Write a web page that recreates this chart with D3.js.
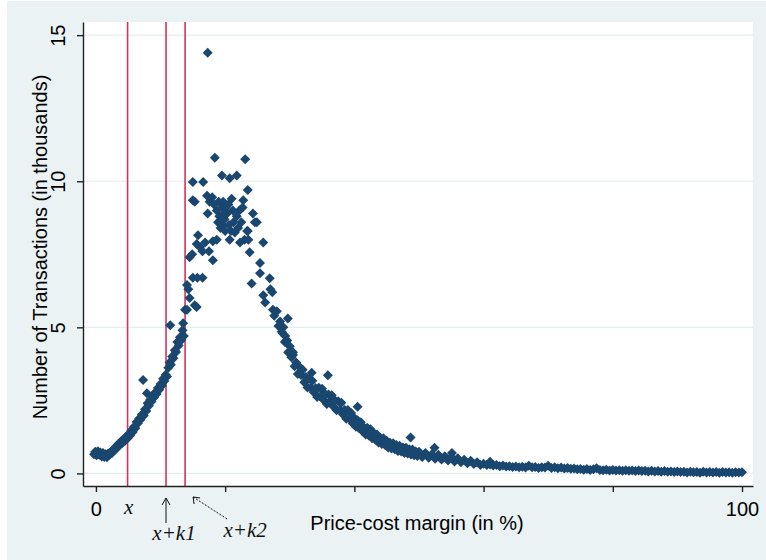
<!DOCTYPE html>
<html>
<head>
<meta charset="utf-8">
<script src="https://cdn.jsdelivr.net/npm/d3@7.9.0/dist/d3.min.js"></script>
<style>
  body { margin: 0; background: #fff; }
  svg { display: block; font-family: "Liberation Sans", Arial, sans-serif; }
</style>
</head>
<body>
<svg width="766" height="560"></svg>
<script>
// [margin %, transactions in thousands]
const risePoints = [
  [-0.3,0.66],[-0.1,0.74],[0.1,0.62],[0.3,0.76],[0.5,0.64],[0.7,0.72],[0.9,0.58],[1.1,0.7],[1.3,0.56],[1.5,0.66],
  [1.7,0.55],[1.9,0.68],[2.1,0.64],[2.3,0.74],[2.5,0.7],[2.7,0.82],[2.9,0.8],[3.1,0.92],[3.3,0.88],[3.5,1.02],
  [3.7,0.98],[3.9,1.1],[4.1,1.04],[4.3,1.18],[4.5,1.12],[4.7,1.26],[4.9,1.2],[5.1,1.36],[5.3,1.3],[5.5,1.48],
  [5.7,1.42],[5.9,1.6],[6.1,1.55],[6.3,1.76],[6.5,1.72],[6.7,1.88],[6.9,1.84],[7.1,2.02],[7.3,3.2],[7.4,1.98],
  [7.6,2.2],[7.8,2.14],[7.9,2.74],[8.0,2.4],[8.2,2.32],[8.4,2.52],[8.6,2.46],[8.8,2.66],[9.0,2.6],[9.2,2.78],
  [9.4,2.72],[9.6,2.92],[9.8,2.86],[10.0,3.06],[10.2,3.0],[10.4,3.24],[10.6,3.16],[10.8,3.38],[11.0,3.32],[11.2,3.62],
  [11.4,3.8],[11.5,5.07],[11.6,3.72],[11.8,4.0],[12.0,3.94],[12.2,4.22],[12.4,4.16],[12.6,4.5],[12.8,4.38],[13.0,4.66],
  [13.2,4.56],[13.4,4.9],[13.5,5.14],[13.6,4.7],[13.8,5.6]
];

const peakPoints = [
  [14.1,5.6],[14.5,6.0],[14.3,6.3],[15.6,5.7],[15.3,5.76],[15.0,6.7],[15.7,6.7],[16.5,6.7],[14.1,6.45],[14.5,7.4],
  [14.9,7.5],[18.1,7.3],[15.8,8.15],[15.6,7.85],[16.1,7.75],[16.5,7.6],[17.3,8.9],[17.2,9.5],[17.6,9.3],[18.0,9.45],
  [15.0,9.35],[15.3,9.3],[15.0,9.97],[16.6,9.97],[18.4,10.8],[23.1,10.75],[19.5,10.2],[20.7,10.1],[21.8,10.2],[18.7,9.0],
  [19.1,8.8],[19.5,9.1],[19.9,8.7],[20.3,8.9],[18.9,8.6],[19.3,8.4],[20.0,8.3],[20.6,8.5],[21.2,9.0],[21.0,9.4],
  [22.0,8.4],[22.5,8.6],[22.8,9.35],[22.7,9.1],[23.5,9.7],[23.5,8.3],[24.3,8.9],[24.9,8.6],[18.1,7.95],[18.7,8.0],
  [20.7,8.0],[21.5,8.25],[17.3,14.4],[19.7,9.3],[20.1,9.1],[18.3,9.2],
  [19.0,9.3],[19.8,8.9],[20.5,9.2],[21.3,8.6],[21.8,8.8],[20.9,8.3],[19.6,8.5],[22.2,9.0],[16.9,7.9],[17.5,7.6],
  [23.0,8.0],[22.3,7.9]
];

const fallPoints = [
  [24.6,8.6],[23.4,8.3],[23.6,8.0],[25.9,7.9],[23.8,7.57],[25.4,7.2],[25.4,6.85],[24.1,6.5],[26.9,6.68],[27.0,6.3],
  [27.3,6.2],[25.9,6.1],[26.2,5.85],[27.4,5.6],[27.6,5.4],[29.7,5.3],[28.9,4.8],[29.3,4.7],[29.6,4.55],[30.5,4.05],
  [28.0,5.55],[28.25,5.05],[28.5,5.2],[28.75,4.85],[29.0,5.0],[29.25,4.5],[29.5,4.55],[29.75,4.15],[30.0,4.35],[30.25,3.98],
  [30.5,4.15],[30.75,3.67],[31.0,3.8],[31.25,3.4],[31.5,3.65],[31.75,3.37],[32.0,3.55],[32.25,3.12],[32.5,3.3],[32.75,2.94],
  [33.0,3.23],[33.25,2.92],[33.5,3.17],[33.75,2.77],[34.0,2.92],[34.25,2.62],[34.5,2.93],[34.75,2.64],[35.0,2.9],[35.25,2.51],
  [35.5,2.72],[35.75,2.38],[36.0,2.7],[36.25,2.46],[36.5,2.68],[36.75,2.29],[37.0,2.5],[37.25,2.16],[37.5,2.47],[37.75,2.17],
  [38.0,2.42],[38.25,2.02],[38.5,2.17],[38.75,1.87],[39.0,2.17],[39.25,1.87],[39.5,2.07],[39.75,1.71],[40.0,1.9],[40.25,1.6],
  [40.5,1.82],[40.75,1.55],[41.0,1.75],[41.25,1.44],[41.5,1.57],[41.75,1.33],[42.0,1.56],[42.25,1.3],[42.5,1.51],[42.75,1.2],
  [43.0,1.38],[43.25,1.15],[43.5,1.33],[43.75,1.06],[44.0,1.22],[44.25,1.01],[44.5,1.2],[44.75,0.97],[45.0,1.12],[45.25,0.89],
  [45.5,1.05],[45.75,0.85],[46.0,1.03],[46.25,0.83],[46.5,0.97],[46.75,0.77],[47.0,0.95],[47.25,0.75],[47.5,0.89],[47.75,0.7],
  [48.0,0.88],[48.25,0.68],[48.5,0.83],[48.75,0.65],[49.0,0.82],[49.25,0.62],[49.5,0.75],[49.75,0.6],[50.0,0.74],[50.5,0.56],
  [51.0,0.7],[51.5,0.54],[52.0,0.66],[52.5,0.5],[53.0,0.64],[53.5,0.48],[54.0,0.59],[54.5,0.44],[55.0,0.56],[55.5,0.41],
  [56.0,0.52],[56.5,0.38],[57.0,0.47],[57.5,0.35],[58.0,0.43],[58.5,0.32],[59.0,0.38],[59.5,0.29],[60.0,0.33]
];

const fallOutliers = [
  [33.4,3.45],[35.9,3.36],[40.5,2.28],[48.7,1.23],[52.4,0.88],[55.1,0.7],[61.0,0.4]
];

const tailPoints = [
  [60.5,0.29],[61,0.31],[61.5,0.27],[62,0.29],[62.5,0.25],[63,0.27],[63.5,0.24],[64,0.25],[64.5,0.22],[65,0.24],
  [65.5,0.21],[66,0.23],[66.5,0.2],[67,0.26],[67.5,0.21],[68,0.22],[68.5,0.19],[69,0.21],[69.5,0.2],[70,0.26],
  [70.5,0.19],[71,0.21],[71.5,0.18],[72,0.2],[72.5,0.17],[73,0.19],[73.5,0.16],[74,0.17],[74.5,0.14],[75,0.15],
  [75.5,0.13],[76,0.15],[76.5,0.12],[77,0.14],[77.5,0.18],[78,0.12],[78.5,0.11],[79,0.13],[79.5,0.1],[80,0.12],
  [80.5,0.1],[81,0.11],[81.5,0.09],[82,0.11],[82.5,0.09],[83,0.1],[83.5,0.08],[84,0.1],[84.5,0.08],[85,0.09],
  [85.5,0.07],[86,0.09],[86.5,0.07],[87,0.08],[87.5,0.06],[88,0.08],[88.5,0.06],[89,0.07],[89.5,0.05],[90,0.07],
  [90.5,0.05],[91,0.06],[91.5,0.03],[92,0.06],[92.5,0.04],[93,0.05],[93.5,0.02],[94,0.06],[94.5,0.03],[95,0.05],
  [95.5,0.03],[96,0.05],[96.5,0.02],[97,0.05],[97.5,0.03],[98,0.04],[98.5,0.02],[99,0.04],[99.5,0.03],[100,0.04]
];

const cutoffs = [4.9, 10.85, 13.8];   // x, x+k1, x+k2
const xTicks = [0, 20, 40, 60, 80, 100];
const xTickLabels = {0: "0", 100: "100"};
const yTicks = [0, 5, 10, 15];

const svg = d3.select("svg");
const W = 766, H = 560;
const plotL = 83, plotR = 753, plotT = 22, plotB = 486;

svg.append("rect").attr("x", 7).attr("y", 1).attr("width", W - 7).attr("height", H - 1).attr("fill", "#eaf2f3");
svg.append("rect").attr("x", plotL).attr("y", plotT).attr("width", plotR - plotL).attr("height", plotB - plotT).attr("fill", "#fff");

const x = d3.scaleLinear().domain([-2.0, 101.7]).range([plotL, plotR]);
const y = d3.scaleLinear().domain([-0.43, 15.45]).range([plotB, plotT]);

// gridlines
svg.append("g").selectAll("line").data(yTicks).join("line")
  .attr("x1", plotL).attr("x2", plotR)
  .attr("y1", d => y(d)).attr("y2", d => y(d))
  .attr("stroke", "#e4eef0").attr("stroke-width", 1.2);

// cutoff lines
svg.append("g").selectAll("line").data(cutoffs).join("line")
  .attr("x1", d => x(d)).attr("x2", d => x(d))
  .attr("y1", plotT).attr("y2", plotB)
  .attr("stroke", "#d5325a").attr("stroke-width", 1.6);

// points
const allPoints = risePoints.concat(peakPoints, fallPoints, fallOutliers, tailPoints);
const diamond = d3.symbol(d3.symbolSquare, 50)();
svg.append("g").selectAll("path").data(allPoints).join("path")
  .attr("d", diamond)
  .attr("transform", d => `translate(${x(d[0])},${y(d[1])}) rotate(45)`)
  .attr("fill", "#1a476f");

// axes
const xAxis = svg.append("g").attr("transform", `translate(0,${plotB})`)
  .call(d3.axisBottom(x).tickValues(xTicks).tickSize(6).tickSizeOuter(0).tickPadding(8)
    .tickFormat(d => xTickLabels[d] || ""));
const yAxis = svg.append("g").attr("transform", `translate(${plotL},0)`)
  .call(d3.axisLeft(y).tickValues(yTicks).tickSize(6).tickSizeOuter(0).tickFormat(d3.format("d")));

[xAxis, yAxis].forEach(a => {
  a.select(".domain").attr("stroke", "#222").attr("stroke-width", 1.4);
  a.selectAll(".tick line").attr("stroke", "#222").attr("stroke-width", 1.4);
  a.selectAll("text").attr("fill", "#000").style("font-size", "20px").style("font-family", "'Liberation Sans', Arial, sans-serif");
});
xAxis.selectAll("text").attr("dy", null).attr("y", 30);
yAxis.selectAll("text")
  .attr("x", null).attr("dy", "0.35em")
  .attr("text-anchor", "middle")
  .attr("transform", "translate(-25,0) rotate(-90)");

// titles
svg.append("text").attr("x", 417).attr("y", 530).attr("text-anchor", "middle")
  .style("font-size", "20px").text("Price-cost margin (in %)");
svg.append("text").attr("transform", "translate(40,247) rotate(-90)").attr("dy", "0.35em")
  .attr("text-anchor", "middle").style("font-size", "20px").text("Number of Transactions (in thousands)");

// annotations
const ann = svg.append("g").style("font-family", "'Liberation Serif', 'Times New Roman', serif")
  .style("font-style", "italic").style("font-size", "21px").attr("fill", "#111");
ann.append("text").attr("x", x(cutoffs[0]) + 1).attr("y", 514).attr("text-anchor", "middle").text("x");
ann.append("text").attr("x", x(cutoffs[1]) + 8).attr("y", 540).attr("text-anchor", "middle").text("x+k1");
ann.append("text").attr("x", x(cutoffs[2]) + 60).attr("y", 537).attr("text-anchor", "middle").text("x+k2");

const k1 = x(cutoffs[1]);
svg.append("line").attr("x1", k1).attr("x2", k1).attr("y1", 523).attr("y2", 498)
  .attr("stroke", "#111").attr("stroke-width", 1);
svg.append("path").attr("d", `M${k1 - 4},${505} L${k1},${498} L${k1 + 4},${505}`)
  .attr("fill", "none").attr("stroke", "#111").attr("stroke-width", 1);

const k2 = x(cutoffs[2]) + 8;
svg.append("line").attr("x1", k2 + 34).attr("y1", 519).attr("x2", k2).attr("y2", 497)
  .attr("stroke", "#111").attr("stroke-width", 1).attr("stroke-dasharray", "2,1.5");
svg.append("path").attr("d", `M${k2 + 1},${504} L${k2},${497} L${k2 + 7},${498}`)
  .attr("fill", "none").attr("stroke", "#111").attr("stroke-width", 1);
</script>
</body>
</html>
